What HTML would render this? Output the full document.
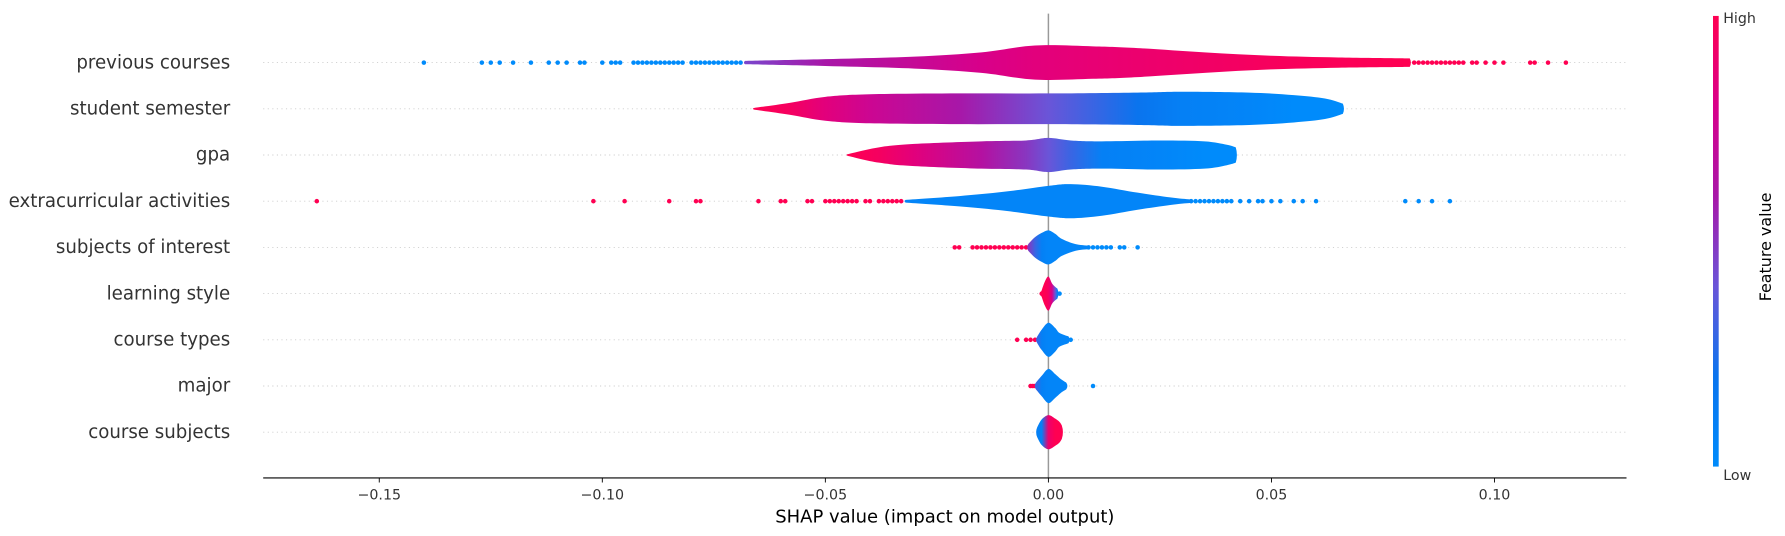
<!DOCTYPE html>
<html><head><meta charset="utf-8"><style>
html,body{margin:0;padding:0;background:#fff;}
svg{display:block;font-family:"DejaVu Sans","Liberation Sans",sans-serif;}
</style></head><body>
<svg id="chart" width="1785" height="536" viewBox="0 0 1568 471" xmlns="http://www.w3.org/2000/svg">
<defs>
<linearGradient id="cbar" x1="0" y1="1" x2="0" y2="0">
<stop offset="0" stop-color="#008bfb"/><stop offset="0.2" stop-color="#0a74ee"/><stop offset="0.4" stop-color="#6a55d8"/><stop offset="0.6" stop-color="#a817a8"/><stop offset="0.8" stop-color="#d8008a"/><stop offset="1" stop-color="#ff0052"/>
</linearGradient>
</defs>
<g id="grid"></g>
<line x1="921" y1="12" x2="921" y2="420" stroke="#999" stroke-width="1.3"/>
<g id="marks"></g>
<g id="labels"></g>
<line x1="231" y1="420" x2="1429" y2="420" stroke="#000" stroke-width="1"/>
<g id="xticks"></g>
<text x="830" y="459" font-size="15.8" text-anchor="middle" fill="#000">SHAP value (impact on model output)</text>
<rect x="1505" y="14" width="5" height="396" fill="url(#cbar)"/>
<text x="1514" y="20" font-size="12.5" fill="#333">High</text>
<text x="1514" y="422" font-size="12.5" fill="#333">Low</text>
<text x="1556" y="217" font-size="14" fill="#000" text-anchor="middle" transform="rotate(-90 1556 217)">Feature value</text>
</svg>
<script>
const features = ["previous courses","student semester","gpa","extracurricular activities","subjects of interest","learning style","course types","major","course subjects"];
const violinX = [
 [-0.068,-0.05,-0.03,-0.015,-0.003,0.01,0.02,0.035,0.05,0.065,0.081],
 [-0.066,-0.058,-0.05,-0.04,-0.02,0,0.02,0.03,0.045,0.055,0.062,0.066],
 [-0.045,-0.038,-0.03,-0.015,-0.005,0,0.005,0.012,0.025,0.035,0.04,0.042],
 [-0.032,-0.02,-0.01,0,0.005,0.012,0.02,0.028,0.032],
 [-0.0045,-0.003,-0.0015,0,0.0015,0.003,0.006,0.009],
 [-0.0015,-0.0008,0,0.0008,0.0015,0.002],
 [-0.0025,-0.0015,0,0.0015,0.0025,0.0045],
 [-0.0028,-0.0015,0,0.0015,0.0028,0.004],
 [-0.0025,-0.0015,0,0.0015,0.0025,0.003]
];
const violinDensity = [
 [0.1,0.2,0.35,0.6,1.0,0.95,0.85,0.6,0.4,0.3,0.25],
 [0.05,0.35,0.7,0.85,0.9,0.9,0.95,1.0,0.95,0.8,0.6,0.3],
 [0.05,0.45,0.65,0.8,0.85,1.0,0.85,0.8,0.85,0.8,0.6,0.45],
 [0.08,0.3,0.55,0.9,1.0,0.85,0.5,0.2,0.1],
 [0.2,0.6,0.85,1.0,0.8,0.5,0.2,0.1],
 [0.2,0.7,1.0,0.6,0.4,0.3],
 [0.2,0.6,1.0,0.7,0.4,0.2],
 [0.2,0.6,1.0,0.7,0.4,0.2],
 [0.3,0.75,1.0,0.8,0.6,0.4]
];
const violinColor = [
 [0.45,0.6,0.72,0.8,0.85,0.88,0.9,0.93,0.96,0.98,1.0],
 [1.0,0.95,0.85,0.75,0.6,0.4,0.2,0.1,0.05,0.0,0.0,0.0],
 [1.0,0.95,0.85,0.65,0.5,0.4,0.3,0.1,0.05,0.0,0.0,0.0],
 [0.05,0.05,0.05,0.05,0.05,0.05,0.05,0.05,0.05],
 [0.5,0.3,0.1,0.05,0.05,0.05,0.05,0.05],
 [1.0,1.0,0.95,0.8,0.4,0.1],
 [0.3,0.1,0.05,0.05,0.05,0.05],
 [0.3,0.1,0.05,0.05,0.05,0.05],
 [0.1,0.1,0.9,1.0,1.0,1.0]
];
const dotsLow = [
 [-0.140,-0.127,-0.125,-0.123,-0.120,-0.116,-0.112,-0.110,-0.108,-0.105,-0.104,-0.100,-0.098,-0.097,-0.096,-0.093,-0.092,-0.091,-0.090,-0.089,-0.088,-0.087,-0.086,-0.085,-0.084,-0.083,-0.082,-0.080,-0.079,-0.078,-0.077,-0.076,-0.075,-0.074,-0.073,-0.072,-0.071,-0.070,-0.069],
 [],[],
 [0.032,0.033,0.034,0.035,0.036,0.037,0.038,0.039,0.040,0.041,0.043,0.045,0.047,0.048,0.050,0.052,0.055,0.057,0.060,0.080,0.083,0.086,0.090],
 [0.009,0.010,0.011,0.012,0.013,0.014,0.016,0.017,0.020],
 [0.0025],[0.005],[0.010],[]
];
const dotsHigh = [
 [0.082,0.083,0.084,0.085,0.086,0.087,0.088,0.089,0.090,0.091,0.092,0.093,0.095,0.096,0.098,0.100,0.102,0.108,0.109,0.112,0.116],
 [],[],
 [-0.164,-0.102,-0.095,-0.085,-0.079,-0.078,-0.065,-0.060,-0.059,-0.054,-0.053,-0.050,-0.049,-0.048,-0.047,-0.046,-0.045,-0.044,-0.043,-0.041,-0.040,-0.038,-0.037,-0.036,-0.035,-0.034,-0.033],
 [-0.021,-0.020,-0.017,-0.016,-0.015,-0.014,-0.013,-0.012,-0.011,-0.010,-0.009,-0.008,-0.007,-0.006,-0.005],
 [-0.0015],[-0.007,-0.005,-0.004,-0.003],[-0.004,-0.0035,-0.003],[]
];
const xTicks = [-0.15,-0.10,-0.05,0.00,0.05,0.10];
const xTickLabels = ["\u22120.15","\u22120.10","\u22120.05","0.00","0.05","0.10"];

const NS="http://www.w3.org/2000/svg";
const X0=921, PXU=3920, ROW0=55, ROWH=40.6, MAXH=15;
function xs(v){return X0+v*PXU;}
function ys(i){return ROW0+i*ROWH;}
const stops=[[0,[0,139,251]],[0.2,[10,116,238]],[0.4,[106,85,216]],[0.6,[168,23,168]],[0.8,[216,0,138]],[1,[255,0,82]]];
function cmap(t){for(let k=1;k<stops.length;k++){if(t<=stops[k][0]){const a=stops[k-1],b=stops[k],f=(t-a[0])/(b[0]-a[0]);return "rgb("+a[1].map((c,j)=>Math.round(c+(b[1][j]-c)*f)).join(",")+")";}}return "rgb(255,0,82)";}
function mk(tag,attrs,parent){const e=document.createElementNS(NS,tag);for(const k in attrs)e.setAttribute(k,attrs[k]);parent.appendChild(e);return e;}
const svg=document.getElementById('chart'),defs=svg.querySelector('defs');
const grid=document.getElementById('grid'),marks=document.getElementById('marks'),labels=document.getElementById('labels'),xt=document.getElementById('xticks');
features.forEach((f,i)=>{
 const y=ys(i);
 const g=mk('line',{x1:231,y1:y,x2:1429,y2:y,stroke:'#ccc','stroke-width':0.8,'stroke-dasharray':'1,3'},grid);
 
 
 const t=mk('text',{x:202,y:y+5,'font-size':16,'text-anchor':'end',fill:'#333'},labels);
 t.textContent=f;
 
 
 dotsLow[i].forEach(v=>{const c=mk('circle',{cx:xs(v),cy:y,r:2,fill:cmap(0)},marks);
  
  });
 dotsHigh[i].forEach(v=>{const c=mk('circle',{cx:xs(v),cy:y,r:2,fill:cmap(1)},marks);
  
  });
 const vx=violinX[i],vd=violinDensity[i],vc=violinColor[i];
 const gid='vg'+i;
 const lg=mk('linearGradient',{id:gid,gradientUnits:'userSpaceOnUse',x1:xs(vx[0]),y1:0,x2:xs(vx[vx.length-1]),y2:0},defs);
 const span=vx[vx.length-1]-vx[0];
 vx.forEach((v,k)=>mk('stop',{offset:((v-vx[0])/span).toFixed(4),'stop-color':cmap(vc[k])},lg));
 const top=vx.map((v,k)=>[xs(v),y-vd[k]*MAXH]);
 const bot=vx.map((v,k)=>[xs(v),y+vd[k]*MAXH]).reverse();
 function curve(pts){let d='';for(let k=1;k<pts.length;k++){const p0=pts[Math.max(k-2,0)],p1=pts[k-1],p2=pts[k],p3=pts[Math.min(k+1,pts.length-1)];
  const c1=[p1[0]+(p2[0]-p0[0])/6,p1[1]+(p2[1]-p0[1])/6],c2=[p2[0]-(p3[0]-p1[0])/6,p2[1]-(p3[1]-p1[1])/6];
  d+=` C${c1[0]},${c1[1]} ${c2[0]},${c2[1]} ${p2[0]},${p2[1]}`;}return d;}
 const l0=top[0],r0=top[top.length-1];
 let d=`M${l0[0]},${l0[1]}`+curve(top)+` Q${r0[0]+2},${y} ${bot[0][0]},${bot[0][1]}`+curve(bot)+` Q${l0[0]-2},${y} ${l0[0]},${l0[1]} Z`;
 const p=mk('path',{d:d,fill:`url(#${gid})`},marks);
 
 
});
xTicks.forEach((v,k)=>{
 const l=mk('line',{x1:xs(v),y1:420,x2:xs(v),y2:424,stroke:'#000','stroke-width':0.8},xt);
 
 
 const t=mk('text',{x:xs(v),y:439,'font-size':12.5,'text-anchor':'middle',fill:'#333'},xt);
 t.textContent=xTickLabels[k];
 
 
});
</script>
</body></html>
